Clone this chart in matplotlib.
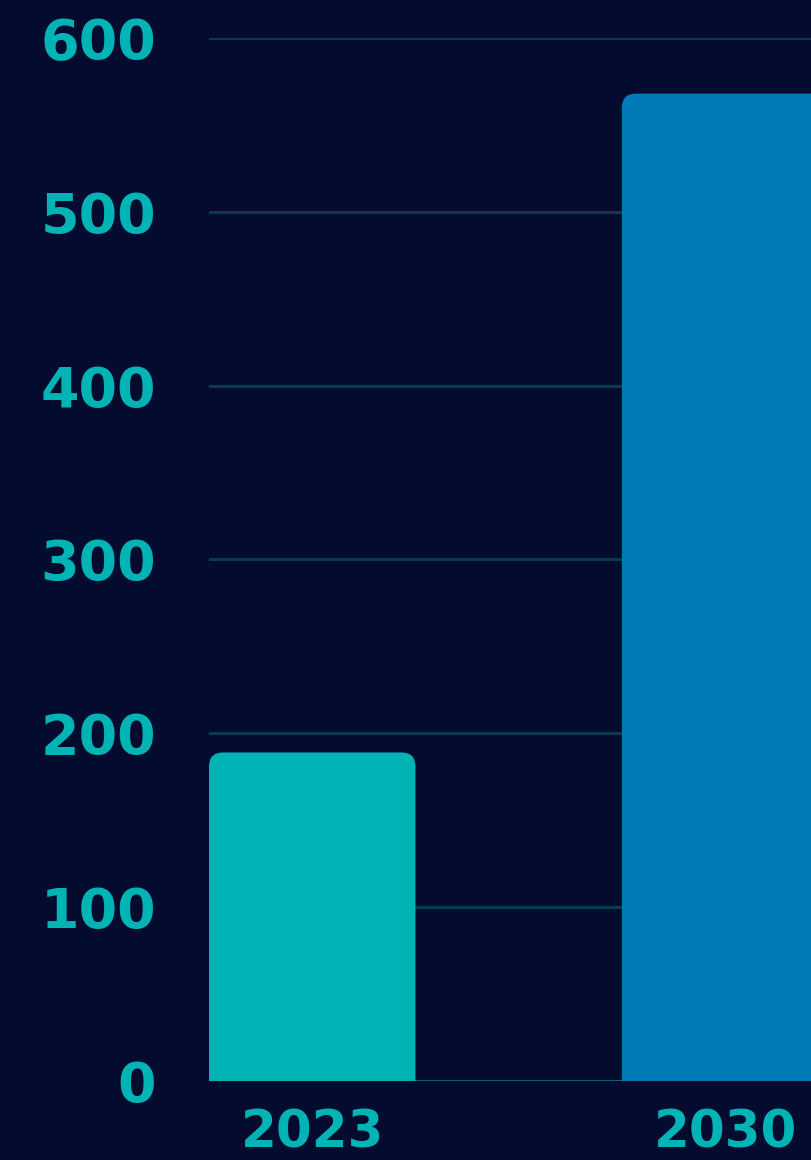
import matplotlib
matplotlib.use("Agg")
import matplotlib.pyplot as plt
from matplotlib.patches import FancyBboxPatch

# data
years = ["2023", "2030"]
values = [189, 568]
bar_colors = ["#00B4B5", "#007BB8"]
yticks = [0, 100, 200, 300, 400, 500, 600]

bg = "#030B2E"
teal = "#00B4B5"

fig = plt.figure(figsize=(8.11, 11.6), dpi=100, facecolor=bg)
ax = fig.add_axes([209 / 811, 1 - 1081 / 1160, 1 - 209 / 811, (1081 - 38) / 1160])
ax.set_facecolor(bg)

xpos = list(range(len(years)))
width = 0.5
ax.set_xlim(-0.25, 1.208)
ax.set_ylim(0, 600)

# gridlines
for t in yticks[1:]:
    ax.axhline(t, color="#0B3A4E", lw=2.2, zorder=0)
ax.axhline(0, color="#0E5C6C", lw=2.2, zorder=0)

# bars with rounded tops (bottom corners hidden below the axis)
bars = ax.bar(xpos, values, width=width, color=bar_colors, zorder=2)
r = 14 / 413  # corner radius in x data units
aspect = (100 / 173.8) * 413
for b, c in zip(bars, bar_colors):
    b.set_visible(False)
    x0, w, h = b.get_x(), b.get_width(), b.get_height()
    ax.add_patch(FancyBboxPatch((x0, -30), w, h + 30,
                                boxstyle=f"round,pad=0,rounding_size={r}",
                                mutation_aspect=aspect, fc=c, ec="none", zorder=2))

for s in ax.spines.values():
    s.set_visible(False)

ax.set_yticks(yticks)
ax.set_yticklabels([str(t) for t in yticks])
ax.set_xticks(xpos)
ax.set_xticklabels(years)
ax.tick_params(length=0, colors=teal)
ax.tick_params(axis="y", pad=38, labelsize=40)
ax.tick_params(axis="x", pad=20, labelsize=37)
for lab in ax.get_xticklabels() + ax.get_yticklabels():
    lab.set_fontfamily("DejaVu Sans")
    lab.set_fontweight("bold")
for lab in ax.get_yticklabels():
    lab.set_y(lab.get_position()[1])

fig.savefig("out.png", dpi=100, facecolor=bg)
